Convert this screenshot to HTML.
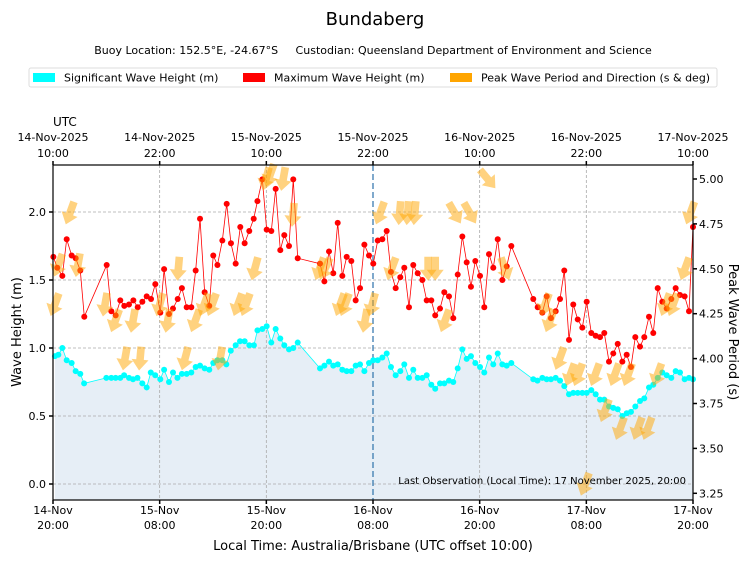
<!DOCTYPE html>
<html><head><meta charset="utf-8">
<style>
body{margin:0;background:#fff;width:750px;height:562px;overflow:hidden;font-family:"DejaVu Sans","Liberation Sans",sans-serif;}
svg text{font-family:"DejaVu Sans","Liberation Sans",sans-serif;fill:#000;}
</style></head>
<body>
<svg id="chart" width="750" height="562" xmlns="http://www.w3.org/2000/svg">
<text x="375" y="25" font-size="18" text-anchor="middle">Bundaberg</text>
<text x="373" y="54" font-size="11" text-anchor="middle" style="white-space:pre">Buoy Location: 152.5°E, -24.67°S     Custodian: Queensland Department of Environment and Science</text>
<g>
<rect x="29" y="68" width="688" height="19" fill="#fff" stroke="#ddd" rx="2"/>
<g><rect x="33" y="73" width="22" height="9" fill="#00ffff"/><text x="64" y="81.5" font-size="11">Significant Wave Height (m)</text></g>
<g><rect x="243" y="73" width="22" height="9" fill="#ff0000"/><text x="274" y="81.5" font-size="11">Maximum Wave Height (m)</text></g>
<g><rect x="450" y="73" width="22" height="9" fill="#ffa500"/><text x="481" y="81.5" font-size="11">Peak Wave Period and Direction (s &amp; deg)</text></g>
</g>
<text x="53" y="126" font-size="12">UTC</text>
<g id="grid"></g>
<g id="marks"></g>
<g id="axes"></g>
<text x="373" y="550" font-size="13" text-anchor="middle">Local Time: Australia/Brisbane (UTC offset 10:00)</text>
<text transform="translate(21,332) rotate(-90)" font-size="13" text-anchor="middle">Wave Height (m)</text>
<text transform="translate(729,332) rotate(90)" font-size="13" text-anchor="middle">Peak Wave Period (s)</text>
</svg>
<script>
const hsTimes=[0.22,0.6,1.05,1.54,2.1,2.55,3.07,3.5,6.0,6.56,7.05,7.57,8.0,8.55,9.0,9.5,10.05,10.54,11.0,11.5,12.07,12.5,13.05,13.5,14.0,14.5,15.04,15.56,16.05,16.54,17.06,17.58,18.03,18.5,19.05,19.5,20.0,20.55,21.04,21.56,22.09,22.6,23.0,23.55,24.04,24.56,25.05,25.57,26.02,26.55,27.03,27.53,30.04,30.53,31.05,31.53,32.03,32.55,33.04,33.56,34.05,34.54,35.03,35.55,36.03,36.53,37.05,37.54,38.02,38.55,39.07,39.52,40.05,40.53,41.03,41.55,42.04,42.56,43.0,43.54,44.02,44.55,45.03,45.53,46.05,46.54,47.02,47.51,48.04,48.52,49.05,49.53,50.03,50.55,51.04,51.56,54.03,54.5,55.05,55.54,56.02,56.55,57.04,57.52,58.05,58.53,59.03,59.55,60.04,60.56,61.05,61.54,62.02,62.55,63.03,63.53,64.05,64.54,65.02,65.51,66.04,66.52,67.05,67.53,68.03,68.55,69.04,69.56,70.05,70.54,71.06,71.55,72.0];
const hsValues=[0.94,0.95,1.0,0.91,0.89,0.83,0.81,0.74,0.78,0.78,0.78,0.78,0.8,0.78,0.77,0.78,0.74,0.71,0.82,0.8,0.77,0.84,0.75,0.82,0.78,0.81,0.81,0.82,0.86,0.87,0.85,0.84,0.89,0.91,0.91,0.88,0.98,1.02,1.05,1.05,1.02,1.02,1.13,1.14,1.16,1.04,1.14,1.07,1.02,0.99,1.0,1.04,0.85,0.87,0.9,0.87,0.88,0.84,0.83,0.83,0.87,0.88,0.83,0.89,0.91,0.91,0.93,0.96,0.86,0.8,0.83,0.88,0.78,0.84,0.78,0.78,0.8,0.73,0.7,0.74,0.74,0.76,0.75,0.85,0.99,0.92,0.94,0.89,0.86,0.82,0.93,0.88,0.96,0.88,0.87,0.89,0.77,0.76,0.78,0.77,0.77,0.78,0.76,0.72,0.66,0.67,0.67,0.67,0.67,0.69,0.66,0.62,0.62,0.57,0.56,0.55,0.5,0.52,0.53,0.57,0.61,0.63,0.71,0.73,0.78,0.82,0.8,0.78,0.83,0.82,0.77,0.78,0.77];
const hmaxTimes=[0.04,0.48,1.05,1.54,2.1,2.55,3.07,3.52,6.04,6.56,7.05,7.57,8.02,8.55,9.04,9.53,10.05,10.54,11.03,11.51,12.07,12.5,13.05,13.5,14.03,14.5,15.04,15.56,16.05,16.54,17.06,17.58,18.03,18.5,19.05,19.54,20.02,20.55,21.07,21.56,22.08,22.58,23.0,23.55,24.04,24.56,25.05,25.57,26.02,26.55,27.03,27.53,30.04,30.53,31.05,31.53,32.03,32.55,33.04,33.56,34.05,34.54,35.03,35.55,36.03,36.53,37.05,37.54,38.02,38.55,39.07,39.52,40.05,40.53,41.03,41.55,42.04,42.56,43.0,43.54,44.02,44.55,45.03,45.53,46.05,46.54,47.02,47.51,48.04,48.52,49.05,49.53,50.03,50.55,51.04,51.56,54.03,54.53,55.05,55.54,56.02,56.55,57.04,57.52,58.05,58.53,59.03,59.55,60.04,60.56,61.05,61.54,62.02,62.55,63.03,63.53,64.05,64.54,65.02,65.51,66.04,66.52,67.05,67.53,68.03,68.55,69.04,69.56,70.05,70.54,71.06,71.55,72.0];
const hmaxValues=[1.67,1.59,1.53,1.8,1.68,1.66,1.57,1.23,1.61,1.27,1.24,1.35,1.31,1.32,1.35,1.3,1.34,1.38,1.36,1.47,1.26,1.58,1.25,1.29,1.36,1.44,1.3,1.3,1.57,1.95,1.41,1.31,1.68,1.61,1.79,2.06,1.77,1.62,1.89,1.77,1.86,1.95,2.08,2.24,1.87,1.86,2.17,1.72,1.83,1.75,2.24,1.66,1.62,1.49,1.71,1.55,1.92,1.53,1.67,1.64,1.35,1.44,1.76,1.68,1.62,1.79,1.8,1.86,1.56,1.44,1.52,1.59,1.3,1.61,1.55,1.5,1.35,1.35,1.24,1.29,1.41,1.38,1.22,1.54,1.82,1.63,1.45,1.64,1.53,1.3,1.69,1.59,1.8,1.5,1.6,1.75,1.36,1.3,1.26,1.38,1.22,1.27,1.36,1.57,1.06,1.32,1.21,1.15,1.34,1.11,1.09,1.08,1.11,0.9,0.96,1.03,0.9,0.95,0.86,1.08,1.01,1.08,1.23,1.11,1.44,1.34,1.29,1.36,1.44,1.39,1.38,1.27,1.89];
const peakTimes=[0.2,0.6,1.9,2.8,5.85,7.0,8.1,9.0,9.8,12.0,12.9,14.1,14.85,16.0,17.0,17.9,18.8,20.8,21.7,22.7,23.96,24.4,25.9,27.0,30.0,30.6,32.3,32.85,35.1,35.9,36.8,38.1,39.0,39.9,40.7,42.2,43.0,44.1,45.2,46.9,48.9,50.85,55.35,55.9,57.0,58.2,59.1,59.85,61.0,62.1,63.2,63.8,64.7,65.8,66.9,68.0,68.9,69.75,71.1,71.7];
const peakPeriods=[4.3,4.52,4.81,4.52,4.3,4.21,4.0,4.21,4.0,4.3,4.21,4.5,4.0,4.21,4.3,4.3,4.0,4.3,4.3,4.5,5.0,5.02,5.0,4.8,4.5,4.5,4.3,4.3,4.21,4.3,4.81,4.5,4.81,4.81,4.81,4.5,4.5,4.21,4.81,4.81,5.0,4.5,4.3,4.21,4.0,3.91,3.91,3.3,3.91,3.71,3.91,3.61,3.91,3.61,3.61,3.91,4.3,4.3,4.5,4.81];
const peakDirs=[20,20,20,10,10,20,10,10,5,15,10,5,15,20,20,20,10,20,20,15,15,20,10,5,20,25,20,20,10,15,20,20,5,5,5,0,0,20,330,330,320,340,20,20,20,20,20,20,20,20,20,20,20,20,20,20,20,20,20,20];
const leftTicks=[0.0,0.5,1.0,1.5,2.0];
const rightTicks=[3.25,3.5,3.75,4.0,4.25,4.5,4.75,5.0];
const xTickHours=[0,12,24,36,48,60,72];
const localDates=["14-Nov","15-Nov","15-Nov","16-Nov","16-Nov","17-Nov","17-Nov"];
const localTimes=["20:00","08:00","20:00","08:00","20:00","08:00","20:00"];
const utcDates=["14-Nov-2025","14-Nov-2025","15-Nov-2025","15-Nov-2025","16-Nov-2025","16-Nov-2025","17-Nov-2025"];
const utcTimes=["10:00","22:00","10:00","22:00","10:00","22:00","10:00"];
const nowHour=36;

const L=53,R=693,T=165,B=500;
const xS=h=>L+h*(R-L)/72;
const yS=v=>484-v*136;
const yP=p=>179+(5-p)*179.6;
const NS="http://www.w3.org/2000/svg";
function mk(parent,tag,attrs){const e=document.createElementNS(NS,tag);for(const k in attrs)e.setAttribute(k,attrs[k]);parent.appendChild(e);return e;}
const grid=document.getElementById('grid'),marks=document.getElementById('marks'),axes=document.getElementById('axes');

let d=`M${xS(hsTimes[0])},${B} `+hsTimes.map((t,i)=>`L${xS(t)},${yS(hsValues[i])}`).join(' ')+` L${xS(hsTimes[hsTimes.length-1])},${B} Z`;
const fill=mk(grid,'path',{d:d,fill:'#e6eef6'});



leftTicks.forEach(v=>{const g=mk(grid,'line',{x1:L,x2:R,y1:yS(v),y2:yS(v),stroke:'#aaa','stroke-dasharray':'3,2','stroke-width':0.8});

});
xTickHours.slice(1,-1).forEach(h=>{if(h===nowHour)return;const g=mk(grid,'line',{x1:xS(h),x2:xS(h),y1:T,y2:B,stroke:'#aaa','stroke-dasharray':'3,2','stroke-width':0.8});

});
const nl=mk(grid,'line',{x1:xS(nowHour),x2:xS(nowHour),y1:T,y2:B,stroke:'#3b7bb0','stroke-dasharray':'6,3','stroke-width':1.3});



function series(times,vals,color,name){
  const pl=mk(marks,'polyline',{points:times.map((t,i)=>xS(t)+','+yS(vals[i])).join(' '),fill:'none',stroke:color,'stroke-width':0.8});
  
  
  times.forEach((t,i)=>{const c=mk(marks,'circle',{cx:xS(t),cy:yS(vals[i]),r:3,fill:color});
  
  });
}
series(hsTimes,hsValues,'#00ffff','hs');
series(hmaxTimes,hmaxValues,'#ff0000','hmax');

peakTimes.forEach((t,i)=>{
  const cx=xS(t),cy=yP(peakPeriods[i]);
  const a=mk(marks,'path',{d:'M-3.8,-12 L3.8,-12 L3.8,1 L8.5,1 L0,12 L-8.5,1 L-3.8,1 Z',fill:'#ffa500','fill-opacity':0.5,transform:`translate(${cx},${cy}) rotate(${peakDirs[i]})`});
  
  
});

const fr=mk(axes,'rect',{x:L,y:T,width:R-L,height:B-T,fill:'none',stroke:'#000','stroke-width':1.2});


leftTicks.forEach(v=>{mk(axes,'line',{x1:L-4,x2:L,y1:yS(v),y2:yS(v),stroke:'#000','stroke-width':1.5});
const tx=mk(axes,'text',{x:L-7,y:yS(v)+4,'font-size':11,'text-anchor':'end'});tx.textContent=v.toFixed(1);

});
rightTicks.forEach(v=>{mk(axes,'line',{x1:R,x2:R+4,y1:yP(v),y2:yP(v),stroke:'#000','stroke-width':1.5});
const tx=mk(axes,'text',{x:R+6,y:yP(v)+4,'font-size':11});tx.textContent=v.toFixed(2);

});
xTickHours.forEach((h,i)=>{const x=xS(h);
mk(axes,'line',{x1:x,x2:x,y1:B,y2:B+4,stroke:'#000','stroke-width':1.5});
mk(axes,'line',{x1:x,x2:x,y1:T-4,y2:T,stroke:'#000','stroke-width':1.5});
const a=mk(axes,'text',{x:x,y:514,'font-size':11,'text-anchor':'middle'});a.textContent=localDates[i];


const b=mk(axes,'text',{x:x,y:529,'font-size':11,'text-anchor':'middle'});b.textContent=localTimes[i];


const c=mk(axes,'text',{x:x,y:141,'font-size':11,'text-anchor':'middle'});c.textContent=utcDates[i];


const e=mk(axes,'text',{x:x,y:157,'font-size':11,'text-anchor':'middle'});e.textContent=utcTimes[i];

});
const lo=mk(axes,'text',{x:686,y:484,'font-size':10,'text-anchor':'end'});lo.textContent='Last Observation (Local Time): 17 November 2025, 20:00';


</script>
</body></html>
